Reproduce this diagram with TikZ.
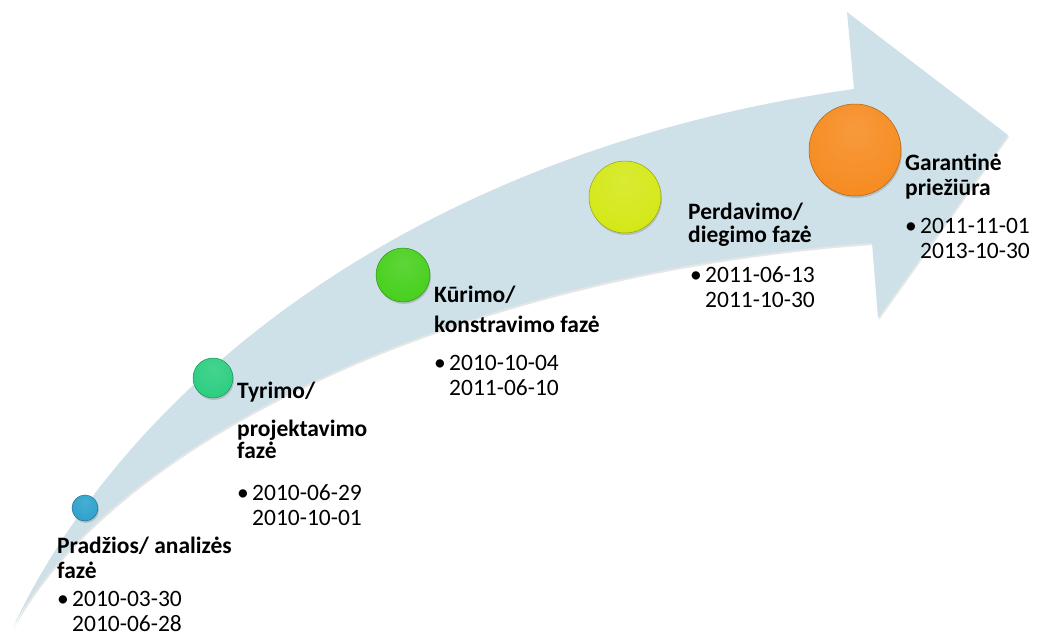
\documentclass[tikz,border=0pt]{standalone}
\usepackage{fontspec}
\setmainfont{Carlito}
\usetikzlibrary{shadows}
\definecolor{arrowblue}{RGB}{207,225,232}
\definecolor{phaseblue}{RGB}{46,162,204}
\definecolor{phaseteal}{RGB}{44,206,128}
\definecolor{phasegreen}{RGB}{72,208,30}
\definecolor{phaseyellow}{RGB}{212,232,24}
\definecolor{phaseorange}{RGB}{246,140,34}
\colorlet{phasecolor}{black}
\pgfdeclareradialshading[phasecolor]{glossy}{\pgfpoint{0bp}{12bp}}{color(0bp)=(phasecolor!88!white); color(30bp)=(phasecolor); color(52bp)=(phasecolor!92!black); color(62bp)=(phasecolor!75!black)}
\newcommand\datebul{\makebox[15pt][l]{\textbullet}}

\begin{document}
\begin{tikzpicture}
[x=1pt,y=-1pt,
 phase/.style 2 args={circle,inner sep=0pt,minimum size=#2,draw=#1!70!black,line width=0.5pt,
   /utils/exec={\colorlet{phasecolor}{#1}},shading=glossy,
   drop shadow={opacity=.35,shadow xshift=1pt,shadow yshift=-2pt}},
 heading/.style={anchor=base west,inner sep=0pt,align=left,font=\bfseries\fontsize{23.5}{24.5}\selectfont},
 dates/.style={anchor=base west,inner sep=0pt,align=left,font=\fontsize{23.5}{25}\selectfont}]
\useasboundingbox (0,0) rectangle (1037,637);
\fill[arrowblue,drop shadow={opacity=.2,shadow xshift=1pt,shadow yshift=-2pt}]
  (13,627) .. controls (130,380) and (420,150) .. (854,89) -- (847,12) -- (1008,135)
  -- (878,318) -- (872,243) .. controls (480,270) and (120,430) .. cycle;
\node[phase={phaseblue}{26pt}] (pradzia) at (85,508) {};
\node[phase={phaseteal}{40pt}] (tyrimas) at (213,378) {};
\node[phase={phasegreen}{54pt}] (kurimas) at (403,275) {};
\node[phase={phaseyellow}{72pt}] (perdavimas) at (625,197) {};
\node[phase={phaseorange}{92pt}] (garantija) at (855,150) {};
\node[heading] (pradziaT) at (57,578) {Pradžios/ analizės\\fazė};
\node[heading] (tyrimasT) at (237,458) {Tyrimo/\\[14pt]projektavimo\\[-3pt]fazė};
\node[heading] (kurimasT) at (434,332) {Kūrimo/\\[5pt]konstravimo fazė};
\node[heading] (perdavimasT) at (688,242) {Perdavimo/\\[-2pt]diegimo fazė};
\node[heading] (garantijaT) at (905,195) {Garantinė\\priežiūra};
\node[dates] (pradziaD) at (57,631) {\datebul 2010-03-30\\\hspace*{15pt}2010-06-28};
\node[dates] (tyrimasD) at (237,525) {\datebul 2010-06-29\\\hspace*{15pt}2010-10-01};
\node[dates] (kurimasD) at (434,395) {\datebul 2010-10-04\\\hspace*{15pt}2011-06-10};
\node[dates] (perdavimasD) at (690,307) {\datebul 2011-06-13\\\hspace*{15pt}2011-10-30};
\node[dates] (garantijaD) at (905,258) {\datebul 2011-11-01\\\hspace*{15pt}2013-10-30};
\end{tikzpicture}
\end{document}
